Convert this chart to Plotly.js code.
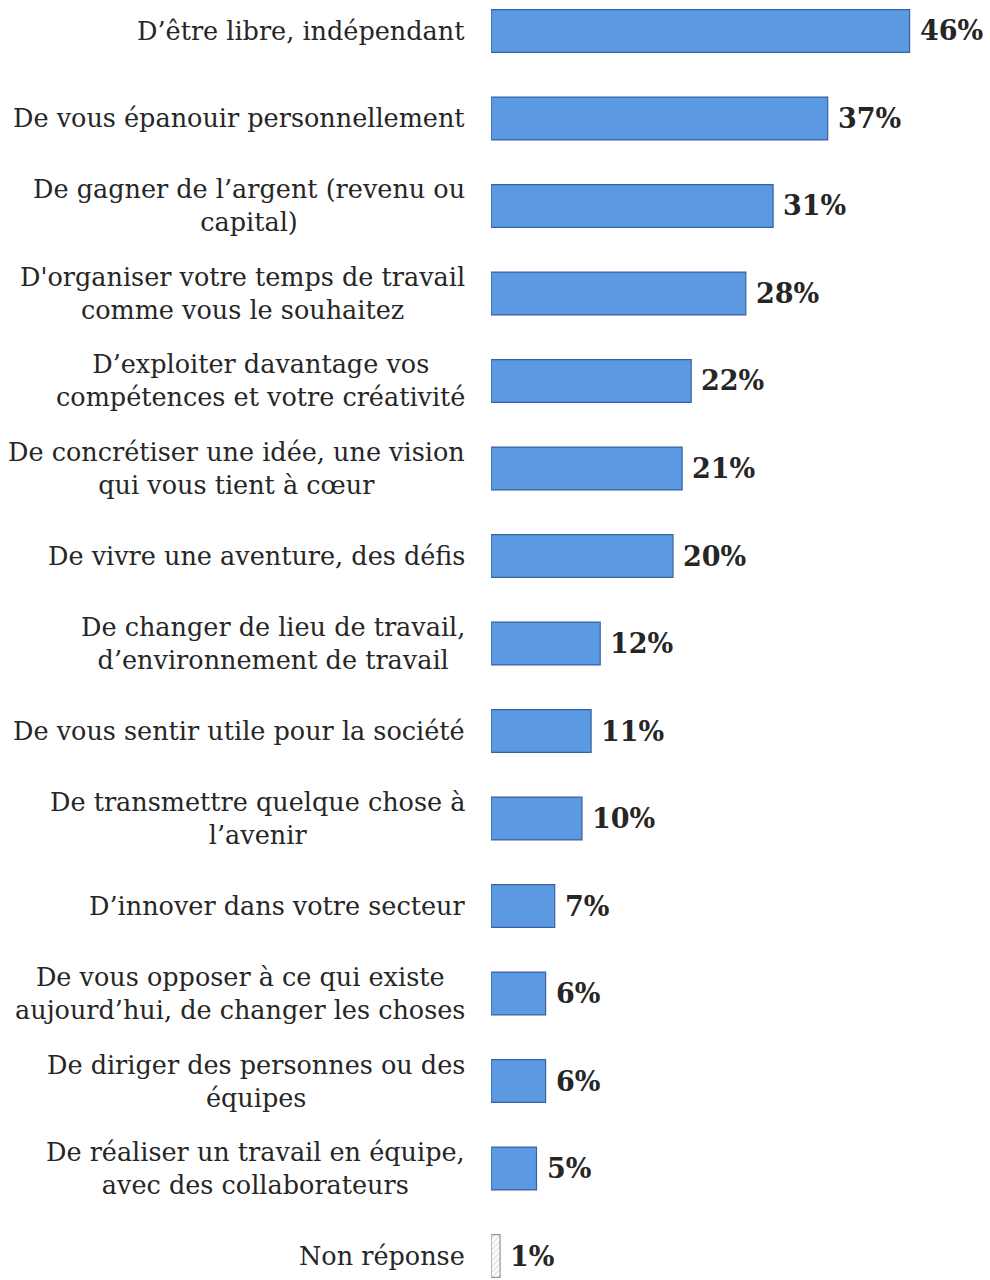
<!DOCTYPE html>
<html><head><meta charset="utf-8">
<script src="https://cdn.plot.ly/plotly-3.0.1.min.js"></script>
<style>html,body{margin:0;padding:0;background:#fff}</style>
</head><body><div id="chart" style="width:990px;height:1280px"></div>
<script>
const categories = [
  "D’être libre, indépendant",
  "De vous épanouir personnellement",
  "De gagner de l’argent (revenu ou<br>capital)",
  "D'organiser votre temps de travail<br>comme vous le souhaitez",
  "D’exploiter davantage vos<br>compétences et votre créativité",
  "De concrétiser une idée, une vision<br>qui vous tient à cœur",
  "De vivre une aventure, des défis",
  "De changer de lieu de travail,<br>d’environnement de travail",
  "De vous sentir utile pour la société",
  "De transmettre quelque chose à<br>l’avenir",
  "D’innover dans votre secteur",
  "De vous opposer à ce qui existe<br>aujourd’hui, de changer les choses",
  "De diriger des personnes ou des<br>équipes",
  "De réaliser un travail en équipe,<br>avec des collaborateurs",
  "Non réponse"
];
const values = [46, 37, 31, 28, 22, 21, 20, 12, 11, 10, 7, 6, 6, 5, 1];
const valueLabels = values.map(v => v + "%");

const n = categories.length;
const blue = "rgb(91,153,226)";
const colors = categories.map((c, i) => i === n - 1 ? "rgb(230,230,230)" : blue);
const lineColors = categories.map((c, i) => i === n - 1 ? "rgb(150,150,150)" : "rgb(56,98,160)");
const patternShapes = categories.map((c, i) => i === n - 1 ? "/" : "");

const trace = {
  type: "bar",
  orientation: "h",
  y: categories,
  x: values,
  marker: {
    color: colors,
    line: { color: lineColors, width: 1.2 },
    pattern: { shape: patternShapes, fgcolor: "rgb(120,120,120)", size: 4, solidity: 0.45 }
  },
  hoverinfo: "none",
  width: 0.49
};

const labelFont = { family: "DejaVu Serif, serif", size: 25.5, color: "#262626" };
const valueFont = { family: "DejaVu Serif, serif", size: 27, color: "#262626", weight: "bold" };

const annotations = [];
categories.forEach((c, i) => {
  annotations.push({
    xref: "paper", yref: "y", x: 0, y: c, text: c,
    xanchor: "right", yanchor: "middle", align: "center",
    xshift: -24, showarrow: false, font: labelFont
  });
  annotations.push({
    xref: "x", yref: "y", x: values[i], y: c, text: "<b>" + valueLabels[i] + "</b>",
    xanchor: "left", yanchor: "middle", xshift: 8, showarrow: false, font: valueFont
  });
});

const layout = {
  width: 990, height: 1280,
  margin: { l: 491, r: 43.5, t: 0, b: 0 },
  paper_bgcolor: "#fff", plot_bgcolor: "#fff",
  showlegend: false,
  xaxis: { range: [0, 50], visible: false, fixedrange: true },
  yaxis: { type: "category", range: [14.274, -0.354], showticklabels: false, showgrid: false, zeroline: false, showline: false, ticks: "" },
  annotations: annotations
};

Plotly.newPlot("chart", [trace], layout, { staticPlot: true, displayModeBar: false });
</script></body></html>
